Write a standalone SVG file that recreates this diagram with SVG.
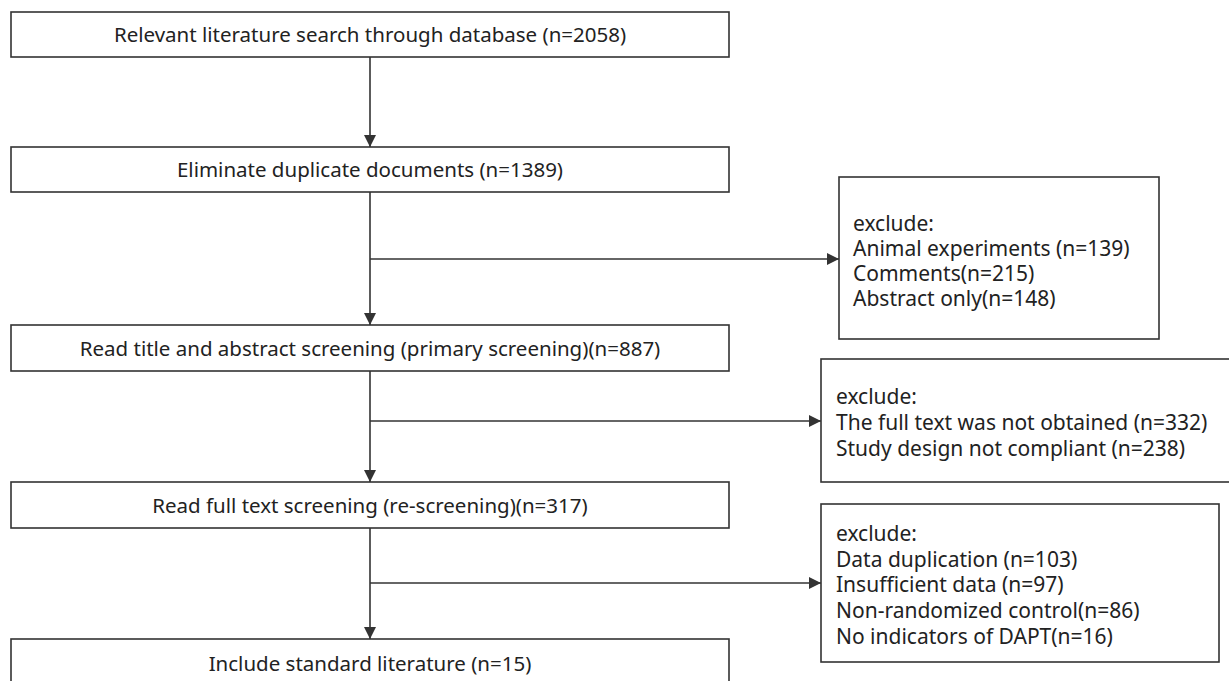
<svg xmlns="http://www.w3.org/2000/svg" width="1229" height="681" viewBox="0 0 1229 681">
<style>
rect{fill:#fff;stroke:#333;stroke-width:1.6}
text{font-family:"Noto Sans","Open Sans",sans-serif;font-size:20.5px;fill:#222}
.x text{font-size:21px}
.c{text-anchor:middle}
.l{stroke:#333;stroke-width:1.6;fill:none}
</style>
<defs>
<marker id="a" markerWidth="12" markerHeight="12" refX="12" refY="6" orient="auto" markerUnits="userSpaceOnUse" viewBox="0 0 12 12">
<path d="M0,0 L12,6 L0,12 Z" fill="#333"/>
</marker>
</defs>
<rect x="0" y="0" width="1229" height="681" style="stroke:none"/>
<g id="connectors">
<line class="l" x1="370" y1="57" x2="370" y2="147" marker-end="url(#a)"/>
<line class="l" x1="370" y1="192" x2="370" y2="325" marker-end="url(#a)"/>
<line class="l" x1="370" y1="259" x2="839" y2="259" marker-end="url(#a)"/>
<line class="l" x1="370" y1="371" x2="370" y2="482" marker-end="url(#a)"/>
<line class="l" x1="370" y1="421" x2="821" y2="421" marker-end="url(#a)"/>
<line class="l" x1="370" y1="528" x2="370" y2="639" marker-end="url(#a)"/>
<line class="l" x1="370" y1="583" x2="821" y2="583" marker-end="url(#a)"/>
</g>
<g id="n1"><rect x="11" y="12" width="718" height="45"/><text class="c" x="370" y="42">Relevant literature search through database (n=2058)</text></g>
<g id="n2"><rect x="11" y="147" width="718" height="45"/><text class="c" x="370" y="177">Eliminate duplicate documents (n=1389)</text></g>
<g id="n3"><rect x="11" y="325" width="718" height="46"/><text class="c" x="370" y="356">Read title and abstract screening (primary screening)(n=887)</text></g>
<g id="n4"><rect x="11" y="482" width="718" height="46"/><text class="c" x="370" y="513">Read full text screening (re-screening)(n=317)</text></g>
<g id="n5"><rect x="11" y="639" width="718" height="60"/><text class="c" x="370" y="671">Include standard literature (n=15)</text></g>
<g id="e1" class="x"><rect x="839" y="177" width="320" height="162"/>
<text x="853" y="231">exclude:</text>
<text x="853" y="256">Animal experiments (n=139)</text>
<text x="853" y="281">Comments(n=215)</text>
<text x="853" y="306">Abstract only(n=148)</text></g>
<g id="e2" class="x"><rect x="821" y="359" width="420" height="123"/>
<text x="836" y="404">exclude:</text>
<text x="836" y="430">The full text was not obtained (n=332)</text>
<text x="836" y="456">Study design not compliant (n=238)</text></g>
<g id="e3" class="x"><rect x="821" y="504" width="398" height="158"/>
<text x="836" y="541">exclude:</text>
<text x="836" y="567">Data duplication (n=103)</text>
<text x="836" y="592">Insufficient data (n=97)</text>
<text x="836" y="618">Non-randomized control(n=86)</text>
<text x="836" y="644">No indicators of DAPT(n=16)</text></g>
</svg>
